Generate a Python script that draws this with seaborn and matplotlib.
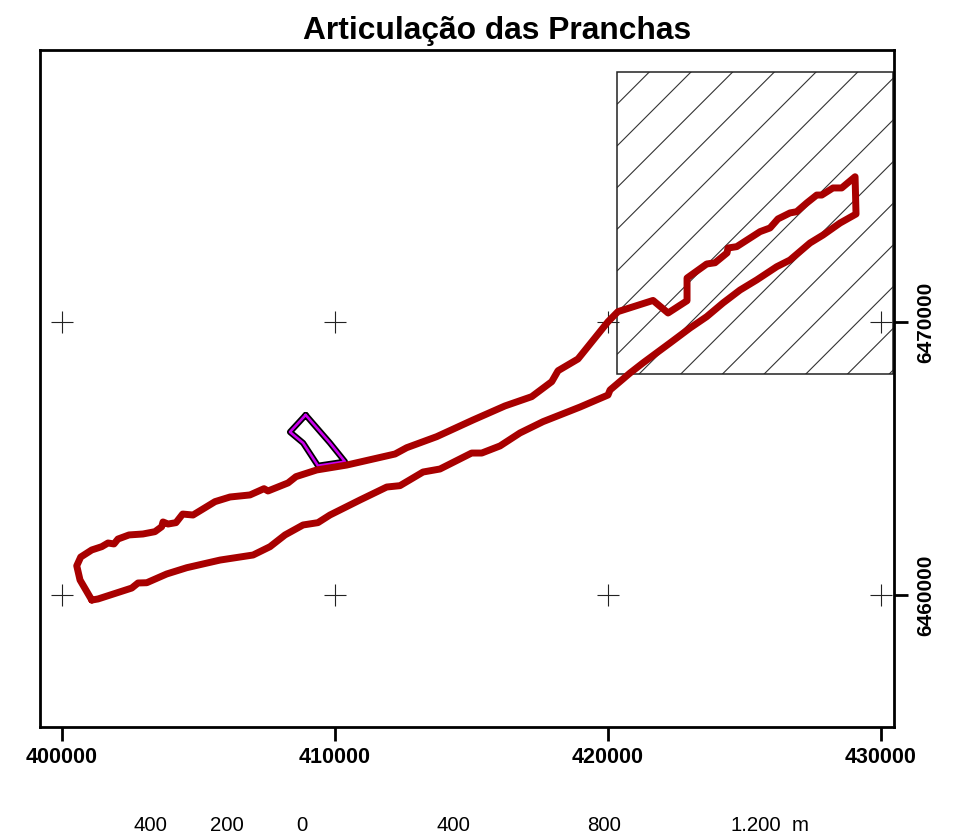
import matplotlib
matplotlib.use("Agg")
import matplotlib.pyplot as plt
from matplotlib.patches import Rectangle
import seaborn as sns
import numpy as np

# coordinates (utm metres)
area_x = [401090, 400660, 400540, 400685, 401090, 401455, 401685, 401905, 402050, 402455, 402965, 403405, 403650, 403700,
          403885, 404175, 404420, 404800, 405605, 406155, 406885, 407400, 407545, 408280, 408570, 409330, 410430, 412200,
          412625, 413725, 415055, 416225, 417205, 417940, 418170, 418900, 420000, 420365, 421650, 422200, 422895, 422895,
          423615, 423920, 424360, 424395, 424715, 425570, 425935, 426225, 426665, 426910, 427280, 427645, 427830, 428240,
          428560, 429050, 429085, 428500, 427875, 427400, 426665, 426180, 425445, 424835, 424210, 423615, 423005, 422270,
          421280, 420805, 420075, 420000, 418975, 417620, 416775, 416045, 415375, 415005, 413845, 413225, 412380, 411895,
          410915, 409815, 409375, 408830, 408170, 407620, 407000, 405790, 404570, 403835, 403105, 402785, 402555, 401320,
          401090]
area_y = [6459815, 6460550, 6461070, 6461390, 6461650, 6461770, 6461905, 6461870, 6462050, 6462200, 6462235, 6462320, 6462500,
          6462675, 6462600, 6462650, 6462965, 6462930, 6463420, 6463590, 6463665, 6463895, 6463810, 6464105, 6464335, 6464580,
          6464760, 6465165, 6465395, 6465800, 6466410, 6466925, 6467265, 6467815, 6468215, 6468645, 6470010, 6470380, 6470790,
          6470330, 6470780, 6471610, 6472125, 6472170, 6472530, 6472710, 6472760, 6473310, 6473445, 6473775, 6473995, 6474040,
          6474360, 6474650, 6474650, 6474910, 6474910, 6475320, 6473955, 6473625, 6473185, 6472895, 6472270, 6472025, 6471540,
          6471170, 6470695, 6470195, 6469780, 6469230, 6468500, 6468130, 6467510, 6467325, 6466885, 6466350, 6465935, 6465460,
          6465200, 6465200, 6464615, 6464505, 6464005, 6463955, 6463480, 6462930, 6462650, 6462565, 6462200, 6461770, 6461465,
          6461280, 6461000, 6460770, 6460450, 6460440, 6460255, 6459855, 6459815]

quarry_x = [408925, 408350, 408830, 409375, 410365, 409815, 408925]
quarry_y = [6466595, 6465970, 6465570, 6464735, 6464885, 6465570, 6466595]

# sheet index rectangle
sheet_x = [420340, 430450]
sheet_y = [6468095, 6479146]
hatch_offsets = np.arange(-14, 2)

cross_x = [400000, 410000, 420000, 430000]
cross_y = [6460000, 6470000]
x_ticks = [400000, 410000, 420000, 430000]
y_ticks = [6460000, 6470000]

scale_values = [-400, -200, 0, 400, 800, 1200]
scale_labels = ["400", "200", "0", "400", "800", "1.200"]

sns.set_style("white")
plt.rcParams["font.family"] = ["Liberation Sans", "DejaVu Sans"]

fig = plt.figure(figsize=(9.54, 8.31), dpi=100)
ax = fig.add_axes([40 / 954, 1 - 727 / 831, 854 / 954, 677 / 831])

# hatching of the sheet, clipped to its frame
frame = Rectangle((sheet_x[0], sheet_y[0]), sheet_x[1] - sheet_x[0], sheet_y[1] - sheet_y[0],
                  fill=False, edgecolor="#222222", linewidth=1.1, zorder=2)
ax.add_patch(frame)
for k in hatch_offsets:
    start = 6057645 + k * 1527
    xs = np.array(sheet_x)
    line, = ax.plot(xs, xs + start, color="#333333", lw=0.8, zorder=1)
    line.set_clip_path(frame.get_path(), frame.get_transform())

xx, yy = np.meshgrid(cross_x, cross_y)
sns.scatterplot(x=xx.ravel(), y=yy.ravel(), marker="+", s=258, color="#222222", linewidth=0.8, ax=ax, zorder=3,
                clip_on=False)

sns.lineplot(x=quarry_x, y=quarry_y, sort=False, estimator=None, color="black", lw=4.4, ax=ax, zorder=4,
             solid_joinstyle="round")
sns.lineplot(x=quarry_x, y=quarry_y, sort=False, estimator=None, color="#cc00ee", lw=1.9, ax=ax, zorder=5,
             solid_joinstyle="round")
sns.lineplot(x=area_x, y=area_y, sort=False, estimator=None, color="#a80000", lw=5, ax=ax, zorder=6,
             solid_joinstyle="round", solid_capstyle="round")

ax.set_xlim(399194, 430476)
ax.set_ylim(6455165, 6479963)

ax.set_title("Articulação das Pranchas", fontsize=22.9, fontweight="bold", pad=8, color="black", x=0.5357)
ax.set_xticks(x_ticks)
ax.set_xticklabels([str(v) for v in x_ticks], fontsize=15.5, fontweight="bold", color="black")
ax.yaxis.tick_right()
ax.set_yticks(y_ticks)
ax.set_yticklabels([str(v) for v in y_ticks], fontsize=15, fontweight="bold", rotation=90, va="center", color="black")
ax.tick_params(axis="both", length=10, width=2, color="black", direction="out", bottom=True, right=True)
ax.tick_params(axis="x", pad=4.5)
ax.tick_params(axis="y", pad=6)
for spine in ax.spines.values():
    spine.set_visible(True)
    spine.set_linewidth(2)
    spine.set_color("black")

# scale bar numbers, 0.378 px per metre
for v, lab in zip(scale_values, scale_labels):
    fig.text((302 + 0.378 * v) / 954, 0, lab, ha="center", va="baseline", fontsize=14.7, color="black")
fig.text(800 / 954, 0, "m", ha="center", va="baseline", fontsize=14.7, color="black")

fig.savefig("out.png", dpi=100)
plt.close()
